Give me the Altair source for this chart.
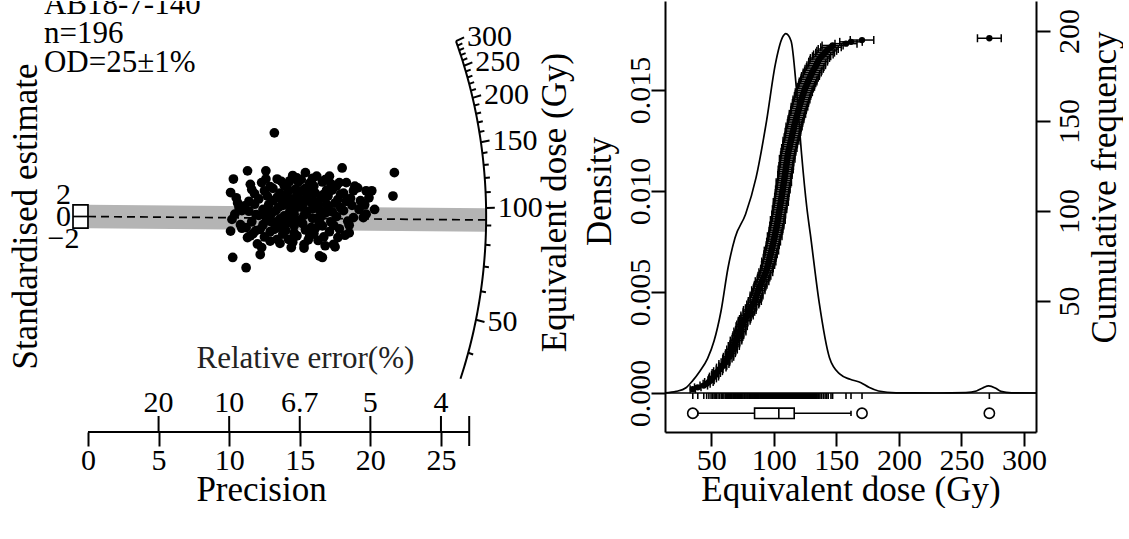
import math
import altair as alt
import pandas as pd

FONT = "Liberation Serif"
LAB = 30      # tick label size
TIT = 35      # axis title size
NOTE = 31     # annotation size

# ----------------------------------------------------------------- left panel data (radial plot)
sample_lines = ["AB18-7-140", "n=196", "OD=25\u00b11%"]

radial_precision = [
    10.1, 10.3, 10.2, 10.4, 10.1, 10.25, 10.6, 10.8, 10.5, 10.9, 10.7, 10.9,
    11.3, 11.5, 11.2, 11.4, 11.6, 11.1, 11.8, 11.7, 11.3, 11.9, 11.6, 11.2, 11.9, 11.4, 11.8, 11.5,
    12.6, 12.6, 12.2, 12.3, 12.9, 12.1, 12.4, 12.7, 12.5, 12.8, 12.2, 12.9, 12.4, 12.7, 12.1, 12.9,
    12.5, 12.3, 12.8, 12.6,
    13.2, 13.4, 13.1, 13.3, 13.6, 13.8, 13.0, 13.5, 13.9, 13.2, 13.7, 13.4, 13.9, 13.1, 13.6, 13.8,
    13.3, 13.5, 13.0, 13.7, 13.9, 13.4, 13.8, 13.6,
    14.2, 14.5, 14.1, 14.3, 14.6, 14.8, 14.0, 14.4, 14.7, 14.9, 14.2, 14.6, 14.9, 14.1, 14.5, 14.8,
    14.3, 14.7, 14.0, 14.4, 14.9, 14.2, 14.6, 14.8, 14.5, 14.1,
    15.4, 15.3, 15.1, 15.6, 15.2, 15.8, 15.0, 15.5, 15.9, 15.3, 15.7, 15.1, 15.9, 15.4, 15.6, 15.2,
    15.8, 15.0, 15.5, 15.7, 15.3, 15.9, 15.1, 15.6, 15.4, 15.8,
    16.4, 16.6, 16.2, 16.0, 16.5, 16.8, 16.1, 16.3, 16.7, 16.9, 16.4, 16.0, 16.6, 16.2, 16.8, 16.5,
    16.9, 16.1, 16.3, 16.7, 16.4, 16.0, 16.6, 16.8,
    17.1, 17.4, 17.0, 17.3, 17.6, 17.8, 17.2, 17.5, 17.9, 17.7, 17.3, 17.1, 17.6, 17.9, 17.4, 17.8,
    17.0, 17.5, 17.7, 17.2,
    18.0, 18.5, 18.3, 18.1, 18.6, 18.4, 18.8, 18.2, 18.7, 18.9, 18.3, 18.5, 18.1, 18.8,
    19.1, 19.7, 19.5, 19.7, 19.3, 19.9, 19.2, 19.6,
    20.3, 21.7, 21.6, 20.1, 14.4, 12.0,
]
radial_std_estimate = [
    4.1, 6.4, -0.5, 0.4, -2.5, -7.0, 2.3, -1.4, 3.2, 1.0, 1.5, -2.0,
    7.8, 5.5, -8.75, 2.6, -0.9, 1.8, 3.9, -2.9, -3.6, 0.3, 4.6, -1.9, -2.4, 0.9, 2.1, -3.3,
    7.8, 6.4, -6.5, -5.3, -4.2, 3.0, 1.2, -0.6, 4.4, 2.0, -2.2, 5.1, -1.4, 3.5, 0.2, -2.6,
    -3.5, 5.8, 0.8, -0.1,
    14.3, 6.4, 2.7, -1.0, 4.0, -3.0, 0.5, 1.6, 5.3, -2.2, 2.9, -3.9, 0.1, 4.8, -0.4, 3.6,
    1.0, -1.8, -0.9, 6.0, -1.3, 3.3, 1.9, -4.6,
    -3.9, 7.0, 5.4, 0.9, -1.6, 3.8, 2.4, -0.2, 1.5, 5.9, 4.3, -2.8, -0.8, -1.1, 2.9, -3.3,
    6.1, 4.7, -2.4, 1.8, 2.2, -0.5, 0.4, 6.6, -4.4, 3.4,
    7.5, -4.8, 6.3, 5.0, 2.0, -1.9, -0.6, 3.7, 1.3, 0.2, -3.4, 4.4, 6.5, -2.3, 2.7, -1.2,
    4.1, 3.0, 0.9, 5.7, -5.4, -0.3, 1.6, -4.0, 4.8, 2.4,
    -6.75, -7.0, 6.9, 5.2, 3.1, 0.6, -2.0, 1.8, -3.5, 4.5, -1.0, 2.6, 5.9, -0.3, -5.0, 0.0,
    2.1, 4.0, -4.1, 3.8, 1.1, -2.9, -1.6, 6.3,
    6.9, -4.75, 3.5, 0.8, 5.2, -2.1, -0.9, 2.3, 3.8, -3.6, 4.5, -2.6, 0.0, 1.5, -1.5, 5.8,
    1.7, -5.2, 2.9, 5.6,
    8.3, -2.8, 5.8, 1.0, 3.1, -0.8, 4.4, -3.2, 1.9, 5.2, 2.6, -1.5, 4.0, -0.2,
    4.9, 4.4, -0.2, 0.4, 2.7, 3.2, 1.2, 2.0,
    1.2, 7.5, 3.5, 4.4, -5.3, -4.7,
]

std_ticks = [2, 0, -2]
std_tick_labels = ["2", "0", "\u22122"]
std_label_shift = [-10, 0, 11]
precision_ticks = [0, 5, 10, 15, 20, 25]
rel_error_at = [5, 10, 15, 20, 25]
rel_error_labels = ["20", "10", "6.7", "5", "4"]
de_major_ticks = [50, 100, 150, 200, 250, 300]
de_minor_ticks = [40, 60, 70, 80, 90, 110, 120, 130, 140, 160, 170, 180, 190,
                  210, 220, 230, 240, 260, 270, 280, 290]

# radial-plot geometry
CENTRAL_DE = 95.0        # Gy at the horizontal of the standardised axis
ARC_RADIUS = 28.2        # precision units
ARC_SQUEEZE = 0.129      # ellipse factor of the z-axis
CENTRAL_SLOPE = -0.021   # log slope of the central (dashed) line
ARC_FROM, ARC_TO = 33.2, 300.0
PREC_AXIS_END = 27.0

# ----------------------------------------------------------------- right panel data (KDE plot)
de_values = [
    35.2, 39.2, 44.0, 46.3, 48.1, 49.8, 51.0, 52.2, 53.1, 54.0,
    55.4, 56.7, 58.0, 59.2, 60.1, 61.3, 62.0, 62.9, 63.8, 64.5,
    65.3, 66.0, 66.6, 67.4, 68.0, 68.7, 69.3, 69.8, 70.5, 71.1,
    71.6, 72.3, 72.9, 73.4, 73.9, 74.3, 74.6, 75.4, 76.3, 77.0,
    77.8, 78.6, 79.3, 80.1, 80.8, 81.6, 82.4, 83.2, 84.0, 84.8,
    85.3, 85.8, 86.2, 86.7, 87.1, 87.6, 88.2, 88.9, 89.5, 90.1,
    90.6, 91.2, 91.9, 92.5, 93.0, 93.6, 94.1, 94.5, 95.0, 95.4,
    95.7, 96.0, 96.4, 96.7, 97.1, 97.4, 97.8, 98.1, 98.5, 98.8,
    99.1, 99.4, 99.8, 100.1, 100.4, 100.7, 101.0, 101.3, 101.6, 101.9,
    102.2, 102.4, 102.7, 103.0, 103.2, 103.5, 103.7, 103.9, 104.1, 104.4,
    104.6, 104.9, 105.1, 105.3, 105.6, 105.8, 106.0, 106.3, 106.5, 106.7,
    106.9, 107.2, 107.4, 107.6, 107.8, 108.0, 108.3, 108.5, 108.7, 108.9,
    109.1, 109.3, 109.5, 109.7, 109.9, 110.1, 110.3, 110.5, 110.7, 110.9,
    111.1, 111.4, 111.7, 112.0, 112.4, 112.7, 113.0, 113.3, 113.7, 114.0,
    114.3, 114.6, 114.9, 115.3, 115.6, 116.0, 116.2, 116.6, 117.0, 117.3,
    117.7, 118.1, 118.5, 118.9, 119.3, 119.7, 120.1, 120.5, 120.9, 121.3,
    121.7, 122.1, 122.6, 123.0, 123.5, 124.0, 124.5, 125.0, 125.6, 126.2,
    126.8, 127.4, 128.0, 128.7, 129.3, 130.0, 130.7, 131.5, 132.3, 133.1,
    133.9, 134.6, 135.4, 136.0, 136.9, 138.2, 139.6, 141.0, 142.3, 143.5,
    145.7, 147.0, 157.7, 161.7, 170.5, 272.3,
]
de_errors = [
    2.1, 2.6, 3.0, 2.8, 3.4, 2.5, 3.1, 3.6, 2.9, 3.3,
    3.5, 2.7, 3.8, 3.2, 4.0, 3.4, 2.9, 3.7, 4.1, 3.3,
    3.9, 3.6, 4.2, 3.1, 4.4, 3.8, 3.5, 4.6, 3.9, 4.1,
    4.3, 3.7, 4.8, 4.0, 3.6, 4.5, 4.2, 3.9, 4.7, 4.4,
    4.1, 4.9, 3.8, 4.6, 5.0, 4.3, 4.0, 4.8, 4.5, 5.2,
    4.2, 4.7, 5.1, 4.4, 3.9, 5.3, 4.6, 4.8, 5.0, 4.3,
    5.4, 4.5, 4.9, 5.1, 4.2, 5.5, 4.7, 5.0, 4.4, 5.2,
    4.8, 5.6, 4.6, 5.1, 4.9, 5.3, 4.5, 5.7, 5.0, 4.7,
    5.2, 4.9, 5.5, 5.0, 4.6, 5.8, 5.1, 4.8, 5.4, 5.3,
    4.9, 5.6, 5.2, 5.0, 5.9, 4.7, 5.3, 5.5, 5.1, 4.8,
    5.7, 5.2, 5.4, 4.9, 6.0, 5.3, 5.0, 5.6, 5.2, 5.5,
    5.1, 5.8, 5.3, 4.9, 5.6, 6.1, 5.2, 5.4, 5.0, 5.7,
    5.5, 5.1, 6.0, 5.3, 5.8, 5.0, 5.6, 5.2, 6.2, 5.4,
    5.7, 5.3, 5.9, 5.5, 6.1, 5.2, 5.8, 5.6, 6.3, 5.4,
    6.0, 5.7, 5.5, 6.2, 5.8, 5.9, 6.4, 5.6, 6.1, 5.8,
    6.3, 5.9, 6.0, 6.5, 5.7, 6.2, 6.1, 6.6, 5.9, 6.4,
    6.2, 6.7, 6.0, 6.5, 6.3, 6.8, 6.1, 6.6, 6.9, 6.4,
    6.7, 7.0, 6.5, 6.8, 7.1, 6.6, 7.2, 6.9, 7.3, 7.0,
    7.4, 6.8, 7.5, 7.1, 7.6, 7.3, 7.8, 7.5, 7.9, 8.0,
    8.2, 8.4, 8.8, 9.0, 9.4, 9.5,
]
kde_de = [13, 22, 29.8, 35, 41, 47, 52.2, 57.8, 63.4, 69, 77.4, 85.8, 94.2, 101.2, 106.8,
          109.6, 113.8, 118, 122.2, 126.4, 129.2, 136.1, 144.5, 152.9, 161, 169.7, 176,
          183.7, 197.7, 230, 253.6, 262, 267, 271.8, 277, 281.6, 290, 309.6]
kde_density = [0.00001, 0.00008, 0.00026, 0.0006, 0.00109, 0.0017, 0.00257, 0.00406, 0.0062,
               0.00769, 0.00885, 0.01066, 0.01347, 0.01627, 0.01759, 0.01779, 0.01743, 0.01511,
               0.01182, 0.00917, 0.00786, 0.00455, 0.00175, 0.00093, 0.00068, 0.00051, 0.00028,
               0.0001, 0.00001, 0.0, 0.00002, 0.0001, 0.00025, 0.00035, 0.00025, 0.00008,
               0.00001, 0.0]
de_axis_ticks = [50, 100, 150, 200, 250, 300]
density_axis_ticks = [0.0, 0.005, 0.010, 0.015]
cum_axis_ticks = [50, 100, 150, 200]

# ================================================================= LEFT PANEL
LEFT_W, LEFT_H = 570, 431
XL = [-6.16, 34.21]
YL = [-36.84, 36.84]
YPX = (YL[1] - YL[0]) / LEFT_H          # data units per pixel (vertical)
YMIN = YL[0]

xl = alt.Scale(domain=XL, nice=False, zero=False)
yl = alt.Scale(domain=YL, nice=False, zero=False)
prec_axis = alt.Axis(values=precision_ticks, tickSize=14, labelPadding=-1, title="Precision",
                     titlePadding=-3, titleX=260, titleAlign="center")


def ex(f):
    return alt.X(f, type="quantitative", scale=xl, axis=prec_axis)


def ey(f):
    return alt.Y(f, type="quantitative", scale=yl, axis=None)


band_end = ARC_RADIUS / math.sqrt(1 + ARC_SQUEEZE * CENTRAL_SLOPE ** 2)
band_df = pd.DataFrame({"p": [0.0, band_end]})
band_base = alt.Chart(band_df).transform_calculate(
    mid=f"{CENTRAL_SLOPE}*datum.p"
).transform_calculate(
    lo=f"datum.mid - {max(std_ticks)}", hi=f"datum.mid + {max(std_ticks)}"
)
band = band_base.mark_area(color="#b4b4b4").encode(x=ex("p"), y=ey("lo"), y2="hi:Q")
central = band_base.mark_line(color="black", strokeWidth=1.7, strokeDash=[8, 5]).encode(
    x=ex("p"), y=ey("mid"))

arc_curve = alt.Chart(alt.sequence(0, 1.001, 0.01, as_="t")).transform_calculate(
    De=f"exp(log({ARC_FROM}) + datum.t*(log({ARC_TO}) - log({ARC_FROM})))"
).transform_calculate(
    d=f"log(datum.De/{CENTRAL_DE})"
).transform_calculate(
    ax=f"{ARC_RADIUS}/sqrt(1 + {ARC_SQUEEZE}*datum.d*datum.d)"
).transform_calculate(
    ay="datum.d*datum.ax"
).mark_line(color="black", strokeWidth=2).encode(x=ex("ax"), y=ey("ay"), order="t:Q")


def arc_tick_base(values, rel_len):
    return alt.Chart(pd.DataFrame({"De": values})).transform_calculate(
        d=f"log(datum.De/{CENTRAL_DE})"
    ).transform_calculate(
        x1=f"{ARC_RADIUS}/sqrt(1 + {ARC_SQUEEZE}*datum.d*datum.d)"
    ).transform_calculate(
        y1="datum.d*datum.x1"
    ).transform_calculate(
        x2=f"datum.x1*{1 + rel_len}"
    ).transform_calculate(
        y2="datum.d*datum.x2"
    )


major_base = arc_tick_base(de_major_ticks, 0.022)
major_ticks = major_base.mark_rule(color="black", strokeWidth=2).encode(
    x=ex("x1"), y=ey("y1"), x2="x2:Q", y2="y2:Q")
major_labels = major_base.mark_text(align="left", baseline="middle", dx=3, font=FONT,
                                    fontSize=LAB, color="black").encode(
    x=ex("x2"), y=ey("y2"), text=alt.Text("De:Q", format="d"))
minor_ticks = arc_tick_base(de_minor_ticks, 0.013).mark_rule(color="black", strokeWidth=2).encode(
    x=ex("x1"), y=ey("y1"), x2="x2:Q", y2="y2:Q")

radial_df = pd.DataFrame({"p": radial_precision, "s": radial_std_estimate})
points = alt.Chart(radial_df).mark_circle(size=95, color="black", opacity=1).encode(
    x=ex("p"), y=ey("s"))

box_df = pd.DataFrame({"x0": [-1.06], "x1": [0.0], "y0": [min(std_ticks)], "y1": [max(std_ticks)], "ym": [0.0]})
y_box = alt.Chart(box_df).mark_rect(fill="white", stroke="black", strokeWidth=1.7).encode(
    x=ex("x0"), x2="x1:Q", y=ey("y0"), y2="y1:Q")
y_box_mid = alt.Chart(box_df).mark_rule(color="black", strokeWidth=1.7).encode(
    x=ex("x0"), x2="x1:Q", y=ey("ym"))
y_labels = [
    alt.Chart(pd.DataFrame({"v": [v], "lab": [lab], "x": [-1.735]})).mark_text(
        align="center", baseline="middle", dy=sh, font=FONT, fontSize=LAB, color="black"
    ).encode(x=ex("x"), y=ey("v"), text="lab:N")
    for v, lab, sh in zip(std_ticks, std_tick_labels, std_label_shift)
]

axis_df = pd.DataFrame({"x0": [0.0], "x1": [PREC_AXIS_END], "y": [YMIN],
                        "up": [YMIN + 16 * YPX], "down": [YMIN - 14 * YPX]})
prec_line = alt.Chart(axis_df).mark_rule(color="black", strokeWidth=2).encode(
    x=ex("x0"), x2="x1:Q", y=ey("y"))
end_tick = alt.Chart(axis_df).mark_rule(color="black", strokeWidth=2).encode(
    x=ex("x1"), y=ey("up"), y2="down:Q")
rel_df = pd.DataFrame({"p": rel_error_at, "lab": rel_error_labels,
                       "y0": YMIN, "y1": YMIN + 16 * YPX, "yl": YMIN + 29.3 * YPX})
rel_ticks = alt.Chart(rel_df).mark_rule(color="black", strokeWidth=2).encode(
    x=ex("p"), y=ey("y0"), y2="y1:Q")
rel_labels = alt.Chart(rel_df).mark_text(baseline="middle", align="center", font=FONT,
                                         fontSize=LAB, color="black").encode(
    x=ex("p"), y=ey("yl"), text="lab:N")

txt_df = pd.DataFrame({
    "x": [15.4, -4.39, 33.05],
    "y": [-24.4, 0.0, 2.39],
    "t": ["Relative error(%)", "Standardised estimate", "Equivalent dose (Gy)"],
})
rel_title = alt.Chart(txt_df.iloc[[0]]).mark_text(
    align="center", baseline="middle", font=FONT, fontSize=31, color="#222222").encode(
    x=ex("x"), y=ey("y"), text="t:N")
side_titles = alt.Chart(txt_df.iloc[1:]).mark_text(
    align="center", baseline="middle", angle=270, font=FONT, fontSize=TIT, color="black").encode(
    x=ex("x"), y=ey("y"), text="t:N")

note_df = pd.DataFrame({"x": [-3.116], "y": [34.7], "t": ["\n".join(sample_lines)]})
notes = alt.Chart(note_df).mark_text(
    align="left", baseline="alphabetic", lineBreak="\n", lineHeight=29, font=FONT,
    fontSize=NOTE, color="black", clip=True).encode(x=ex("x"), y=ey("y"), text="t:N")

left = alt.layer(
    band, central, arc_curve, minor_ticks, major_ticks, major_labels, points,
    y_box, y_box_mid, *y_labels, prec_line, end_tick, rel_ticks, rel_labels,
    rel_title, side_titles, notes,
).properties(width=LEFT_W, height=LEFT_H)

# ================================================================= RIGHT PANEL
RIGHT_W, RIGHT_H = 371, 431
xr = alt.Scale(domain=[13, 309.6], nice=False, zero=False)
yd = alt.Scale(domain=[-0.001931, 0.019406], nice=False, zero=False)
yc = alt.Scale(domain=[-22.8, 216.7], nice=False, zero=False)
DPX = (0.019406 + 0.001931) / RIGHT_H   # density units per pixel
BOX_Y = -20.3 * DPX
BOX_H = 5.2 * DPX
CAP_H = 2.6 * DPX
RUG_L = 6.0 * DPX

de_axis = alt.Axis(values=de_axis_ticks, tickSize=14, labelPadding=-1, title="Equivalent dose (Gy)",
                   titlePadding=-3, domain=True, domainColor="black", domainWidth=2)
dens_axis = alt.Axis(orient="left", values=density_axis_ticks, format=".3f", tickSize=14,
                     labelAngle=270, labelAlign="center", labelBaseline="alphabetic",
                     labelPadding=2, title="Density", titlePadding=8, titleY=190,
                     domain=True, domainColor="black", domainWidth=2)
cum_axis = alt.Axis(orient="right", values=cum_axis_ticks, tickSize=14, labelAngle=270,
                    labelAlign="center", labelBaseline="top", labelPadding=4,
                    title="Cumulative frequency", titleAngle=270, titleBaseline="top",
                    titlePadding=3, titleY=186, domain=True, domainColor="black",
                    domainWidth=2)

cum_df = pd.DataFrame({"De": de_values, "err": de_errors,
                       "rank": list(range(1, len(de_values) + 1))})
kde_df = pd.DataFrame({"x": kde_de, "y": kde_density})


def rx(f):
    return alt.X(f, type="quantitative", scale=xr, axis=de_axis)


def rd(f):
    return alt.Y(f, type="quantitative", scale=yd, axis=dens_axis)


def rc(f):
    return alt.Y(f, type="quantitative", scale=yc, axis=cum_axis)


kde = alt.Chart(kde_df).mark_line(color="black", strokeWidth=1.7, interpolate="monotone").encode(
    x=rx("x"), y=rd("y"))
zero_line = alt.Chart(pd.DataFrame({"z": [0.0]})).mark_rule(color="black", strokeWidth=1.7).encode(
    y=rd("z"))
rug = alt.Chart(cum_df).transform_calculate(r0="0", r1=f"{-RUG_L}").mark_rule(
    color="black", strokeWidth=1.6).encode(x=rx("De"), y=rd("r0"), y2="r1:Q")

box_base = alt.Chart(cum_df).transform_joinaggregate(
    q1="q1(De)", q3="q3(De)"
).transform_calculate(
    lo_f="datum.q1 - 1.5*(datum.q3 - datum.q1)", hi_f="datum.q3 + 1.5*(datum.q3 - datum.q1)"
)
whisk = box_base.transform_filter(
    "datum.De >= datum.lo_f && datum.De <= datum.hi_f"
).transform_aggregate(wmin="min(De)", wmax="max(De)").transform_calculate(
    yb=f"{BOX_Y}", c0=f"{BOX_Y - CAP_H}", c1=f"{BOX_Y + CAP_H}")
whisk_line = whisk.mark_rule(color="black", strokeWidth=1.6).encode(
    x=rx("wmin"), x2="wmax:Q", y=rd("yb"))
whisk_caps = whisk.transform_fold(["wmin", "wmax"], as_=["k", "w"]).mark_rule(
    color="black", strokeWidth=1.6).encode(x=rx("w"), y=rd("c0"), y2="c1:Q")
box_stats = alt.Chart(cum_df).transform_aggregate(
    q1="q1(De)", q3="q3(De)", med="median(De)"
).transform_calculate(b0=f"{BOX_Y - BOX_H}", b1=f"{BOX_Y + BOX_H}")
box_rect = box_stats.mark_rect(fill="white", stroke="black", strokeWidth=1.6).encode(
    x=rx("q1"), x2="q3:Q", y=rd("b0"), y2="b1:Q")
box_med = box_stats.mark_rule(color="black", strokeWidth=1.6).encode(
    x=rx("med"), y=rd("b0"), y2="b1:Q")
outliers = box_base.transform_filter(
    "datum.De < datum.lo_f || datum.De > datum.hi_f"
).transform_calculate(yb=f"{BOX_Y}").mark_point(
    shape="circle", filled=False, size=105, strokeWidth=1.6, color="black", opacity=1).encode(
    x=rx("De"), y=rd("yb"))

dens_group = alt.layer(kde, zero_line, rug, whisk_line, whisk_caps, box_rect, box_med, outliers)

err_base = alt.Chart(cum_df).transform_calculate(
    lo="datum.De - datum.err", hi="datum.De + datum.err")
err_bars = err_base.mark_rule(color="black", strokeWidth=1.5).encode(
    x=rx("lo"), x2="hi:Q", y=rc("rank"))
err_caps = err_base.transform_fold(["lo", "hi"], as_=["k", "e"]).mark_tick(
    orient="vertical", size=8, thickness=1.5, color="black", opacity=1).encode(
    x=rx("e"), y=rc("rank"))
cum_pts = alt.Chart(cum_df).mark_circle(size=40, color="black", opacity=1).encode(
    x=rx("De"), y=rc("rank"))
cum_group = alt.layer(err_bars, err_caps, cum_pts)

right = alt.layer(dens_group, cum_group).resolve_scale(y="independent").properties(
    width=RIGHT_W, height=RIGHT_H)

chart = alt.hconcat(left, right, spacing=94, bounds="flush").properties(
    padding=0, background="white"
).configure(font=FONT).configure_axis(
    labelFont=FONT, titleFont=FONT, labelFontSize=LAB, titleFontSize=TIT,
    titleFontWeight="normal", labelColor="black", titleColor="black",
    tickColor="black", tickWidth=2, domain=False, grid=False,
    labelOverlap=False, labelFlush=False,
).configure_view(stroke="transparent")

chart.save("out.html", embed_options={"renderer": "svg", "actions": False})
